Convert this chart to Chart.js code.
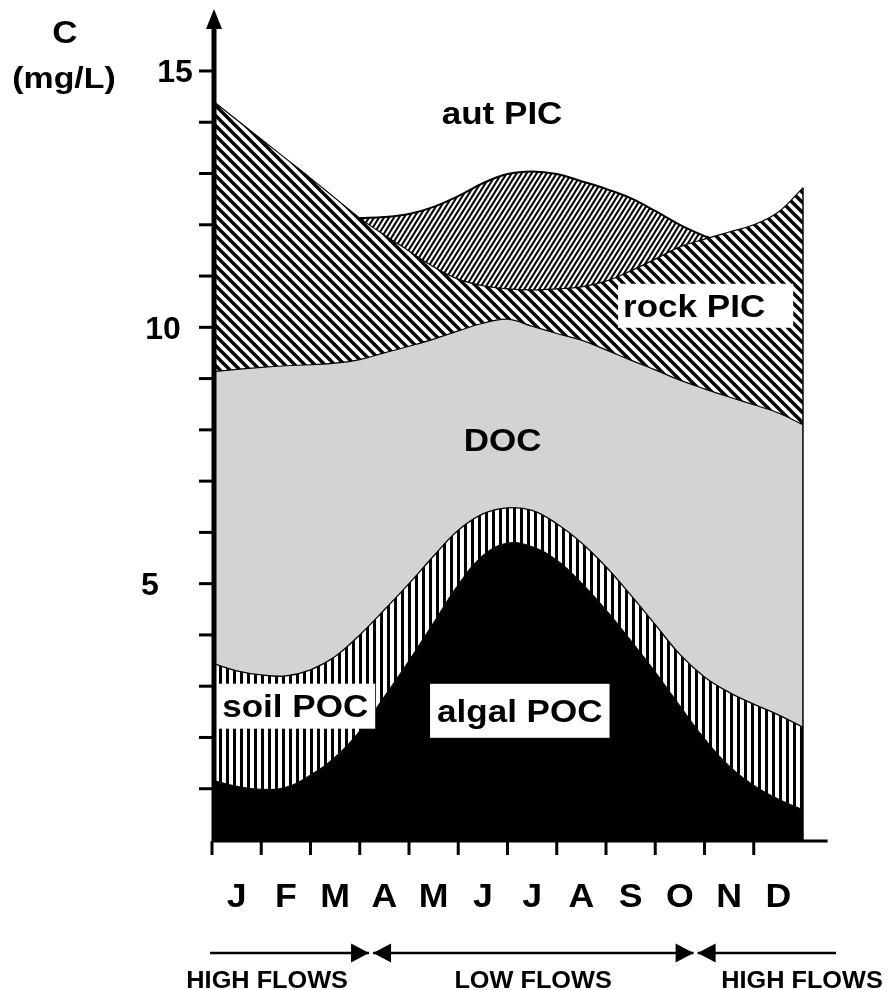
<!DOCTYPE html>
<html>
<head>
<meta charset="utf-8">
<script src="https://cdn.jsdelivr.net/npm/chart.js@4.4.1/dist/chart.umd.min.js"></script>
<style>
  html, body { margin: 0; padding: 0; background: #fff; }
  #wrap { width: 890px; height: 990px; position: relative; }
</style>
</head>
<body>
<div id="wrap"><canvas id="carbon"></canvas></div>
<script>
const months = ["J","F","M","A","M","J","J","A","S","O","N","D"];

// x in months (0 = start of Jan, 12 = end of Dec), half-month steps
const monthPos = [0,0.5,1,1.5,2,2.5,3,3.5,4,4.5,5,5.5,6,6.5,7,7.5,8,8.5,9,9.5,10,10.5,11,11.5,12];

// upper edge of each stacked band, C in mg/L
const algalTop = [1.17,1.05,0.99,1.03,1.27,1.62,2.13,2.80,3.50,4.24,4.98,5.55,5.79,5.72,5.46,5.02,4.49,3.90,3.28,2.62,1.98,1.45,1.07,0.80,0.59];
const soilTop  = [3.45,3.30,3.22,3.20,3.32,3.58,4.00,4.49,5.00,5.54,6.04,6.36,6.48,6.43,6.17,5.80,5.33,4.78,4.20,3.62,3.18,2.88,2.65,2.44,2.20];
const docTop   = [9.13,9.18,9.22,9.25,9.27,9.30,9.37,9.50,9.63,9.77,9.93,10.08,10.16,10.02,9.88,9.75,9.56,9.36,9.17,8.97,8.80,8.64,8.49,8.33,8.10];
const rockTop  = [14.43,14.05,13.67,13.29,12.91,12.52,12.13,11.80,11.49,11.18,10.94,10.81,10.75,10.73,10.75,10.79,10.90,11.10,11.33,11.57,11.72,11.86,12.00,12.25,12.72];

// autochthonous PIC only sits on top during the low-flow months
const autPos = [3,3.5,4,4.5,5,5.5,6,6.5,7,7.5,8,8.5,9,9.5,10,10.1];
const autTop = [12.13,12.15,12.21,12.35,12.56,12.81,12.99,13.04,12.99,12.85,12.70,12.52,12.27,12.00,11.78,11.75];

const bandNames = ["aut PIC","rock PIC","DOC","soil POC","algal POC"];
const yTickValues = [5, 10, 15];
const yTickLabels = ["5", "10", "15"];
const flowBreaks = [3.23, 9.82];
const flowLabels = ["HIGH FLOWS", "LOW FLOWS", "HIGH FLOWS"];

const FONT = '"Liberation Sans", Arial, sans-serif';
const canvas = document.getElementById("carbon");
const ctx0 = canvas.getContext("2d");

function tile(w, h, draw) {
  const c = document.createElement("canvas");
  c.width = w; c.height = h;
  const g = c.getContext("2d");
  g.fillStyle = "#fff"; g.fillRect(0, 0, w, h);
  g.fillStyle = "#000"; g.strokeStyle = "#000";
  draw(g, w, h);
  return ctx0.createPattern(c, "repeat");
}

// vertical stripes
const soilHatch = tile(7, 7, g => g.fillRect(2, 0, 3, 7));
// wide "\" stripes
const rockHatch = tile(10, 10, (g, w, h) => {
  g.lineWidth = 3.4;
  g.beginPath();
  for (let k = -1; k <= 1; k++) { g.moveTo(k * w - 2, -2); g.lineTo(k * w + w + 2, h + 2); }
  g.stroke();
});
// fine, steep "/" stripes
const autHatch = tile(5, 8, (g, w, h) => {
  g.lineWidth = 2;
  g.beginPath();
  for (let k = -1; k <= 1; k++) { g.moveTo(k * w - w * 0.3, h + h * 0.3); g.lineTo(k * w + w * 1.3, -h * 0.3); }
  g.stroke();
});

const pts = (xs, ys) => xs.map((x, i) => ({ x, y: ys[i] }));

function txt(ctx, s, x, capMid, size, sx, align = "center") {
  ctx.save();
  ctx.font = `bold ${size}px ${FONT}`;
  ctx.textAlign = align;
  ctx.textBaseline = "alphabetic";
  ctx.translate(x, capMid + size * 0.358);
  ctx.scale(sx, 1);
  ctx.fillStyle = "#000";
  ctx.fillText(s, 0, 0);
  ctx.restore();
}
function txtWidth(ctx, s, size, sx) {
  ctx.save();
  ctx.font = `bold ${size}px ${FONT}`;
  const w = ctx.measureText(s).width * sx;
  ctx.restore();
  return w;
}

function arrowHead(ctx, tipX, y, dir, len, half) {
  ctx.beginPath();
  ctx.moveTo(tipX, y);
  ctx.lineTo(tipX - dir * len, y - half);
  ctx.lineTo(tipX - dir * len, y + half);
  ctx.closePath();
  ctx.fill();
}

const frame = {
  id: "frame",
  afterDatasetsDraw(chart) {
    const { ctx } = chart;
    const xs = chart.scales.x, ys = chart.scales.y;
    const X = v => xs.getPixelForValue(v), Y = v => ys.getPixelForValue(v);
    ctx.save();
    ctx.strokeStyle = "#000"; ctx.fillStyle = "#000";

    // right edge of the stack
    ctx.lineWidth = 1.5;
    ctx.beginPath();
    ctx.moveTo(X(12), Y(0)); ctx.lineTo(X(12), Y(rockTop[rockTop.length - 1]));
    ctx.stroke();

    // band labels, some on white boxes
    const spots = [
      { m: 5.89, v: 14.18 },
      { m: 9.79, v: 10.42, box: [5, 28, 44] },
      { m: 5.90, v: 7.80 },
      { m: 1.69, v: 2.61, box: [5, 7, 45] },
      { m: 6.25, v: 2.52, box: [7, 7, 54] }
    ];
    bandNames.forEach((name, i) => {
      const s = spots[i], cx = X(s.m), cy = Y(s.v);
      if (s.box) {
        const w = txtWidth(ctx, name, 31, 1.13);
        ctx.fillStyle = "#fff";
        ctx.fillRect(cx - w / 2 - s.box[0], cy - s.box[2] / 2, w + s.box[0] + s.box[1], s.box[2]);
        ctx.fillStyle = "#000";
      }
      txt(ctx, name, cx, cy, 31, 1.13);
    });

    // y axis with arrow
    const ax = X(0) + 2;
    ctx.lineWidth = 5;
    ctx.beginPath(); ctx.moveTo(ax, Y(0) + 2); ctx.lineTo(ax, 26); ctx.stroke();
    ctx.beginPath(); ctx.moveTo(ax, 9); ctx.lineTo(ax - 8, 29); ctx.lineTo(ax + 8, 29); ctx.closePath(); ctx.fill();
    ctx.lineWidth = 3;
    for (let v = 1; v <= 15; v++) {
      ctx.beginPath(); ctx.moveTo(ax - 15, Y(v)); ctx.lineTo(ax, Y(v)); ctx.stroke();
    }
    const tickCx = [150, 163, 175];
    yTickValues.forEach((v, i) => txt(ctx, yTickLabels[i], tickCx[i], Y(v), 32, 1.0));
    txt(ctx, "C", 65, 31.5, 31, 1.13);
    txt(ctx, "(mg/L)", 64, 77.5, 30, 1.13);

    // x axis
    const by = Y(0) + 1;
    ctx.lineWidth = 3;
    ctx.beginPath(); ctx.moveTo(X(0), by); ctx.lineTo(chart.chartArea.right, by); ctx.stroke();
    for (let m = 0; m < 12; m++) {
      ctx.beginPath(); ctx.moveTo(X(m), by); ctx.lineTo(X(m), by + 14); ctx.stroke();
    }
    months.forEach((s, i) => txt(ctx, s, X(i + 0.5), 894.5, 34, 1.05));

    // flow regime arrows
    const fy = 953;
    const ends = [-0.04, flowBreaks[0], flowBreaks[1], 12.67];
    ctx.lineWidth = 2.5;
    for (let k = 0; k < 3; k++) {
      const x0 = X(ends[k]) + (k > 0 ? 2 : 0), x1 = X(ends[k + 1]) - (k < 2 ? 2 : 0);
      ctx.beginPath(); ctx.moveTo(x0, fy); ctx.lineTo(x1, fy); ctx.stroke();
      if (k > 0) arrowHead(ctx, x0, fy, -1, 18, 9.5);
      if (k < 2) arrowHead(ctx, x1, fy, 1, 18, 9.5);
    }
    const flowCx = [1.12, 6.52, 11.98];
    flowLabels.forEach((s, i) => txt(ctx, s, X(flowCx[i]), 980, 23, 1.1));

    ctx.restore();
  }
};

new Chart(canvas, {
  type: "line",
  data: {
    datasets: [
      { label: "algal POC", data: pts(monthPos, algalTop), fill: "origin", backgroundColor: "#000", borderColor: "#000", borderWidth: 1 },
      { label: "soil POC", data: pts(monthPos, soilTop), fill: "-1", backgroundColor: soilHatch, borderColor: "#000", borderWidth: 1.3 },
      { label: "DOC", data: pts(monthPos, docTop), fill: "-1", backgroundColor: "#d3d3d3", borderColor: "#000", borderWidth: 1.2 },
      { label: "rock PIC", data: pts(monthPos, rockTop), fill: "-1", backgroundColor: rockHatch, borderColor: "#000", borderWidth: 1.2 },
      { label: "aut PIC", data: pts(autPos, autTop), fill: "-1", backgroundColor: autHatch, borderColor: "#000", borderWidth: 2 }
    ]
  },
  options: {
    responsive: true,
    maintainAspectRatio: false,
    animation: false,
    layout: { padding: { left: 212, right: 62.4, top: 19.7, bottom: 150 } },
    elements: { point: { radius: 0 }, line: { tension: 0.4 } },
    scales: {
      x: { type: "linear", min: 0, max: 12.5, display: false },
      y: { type: "linear", min: 0, max: 16, display: false }
    },
    plugins: { legend: { display: false }, tooltip: { enabled: false } }
  },
  plugins: [frame]
});
</script>
</body>
</html>
